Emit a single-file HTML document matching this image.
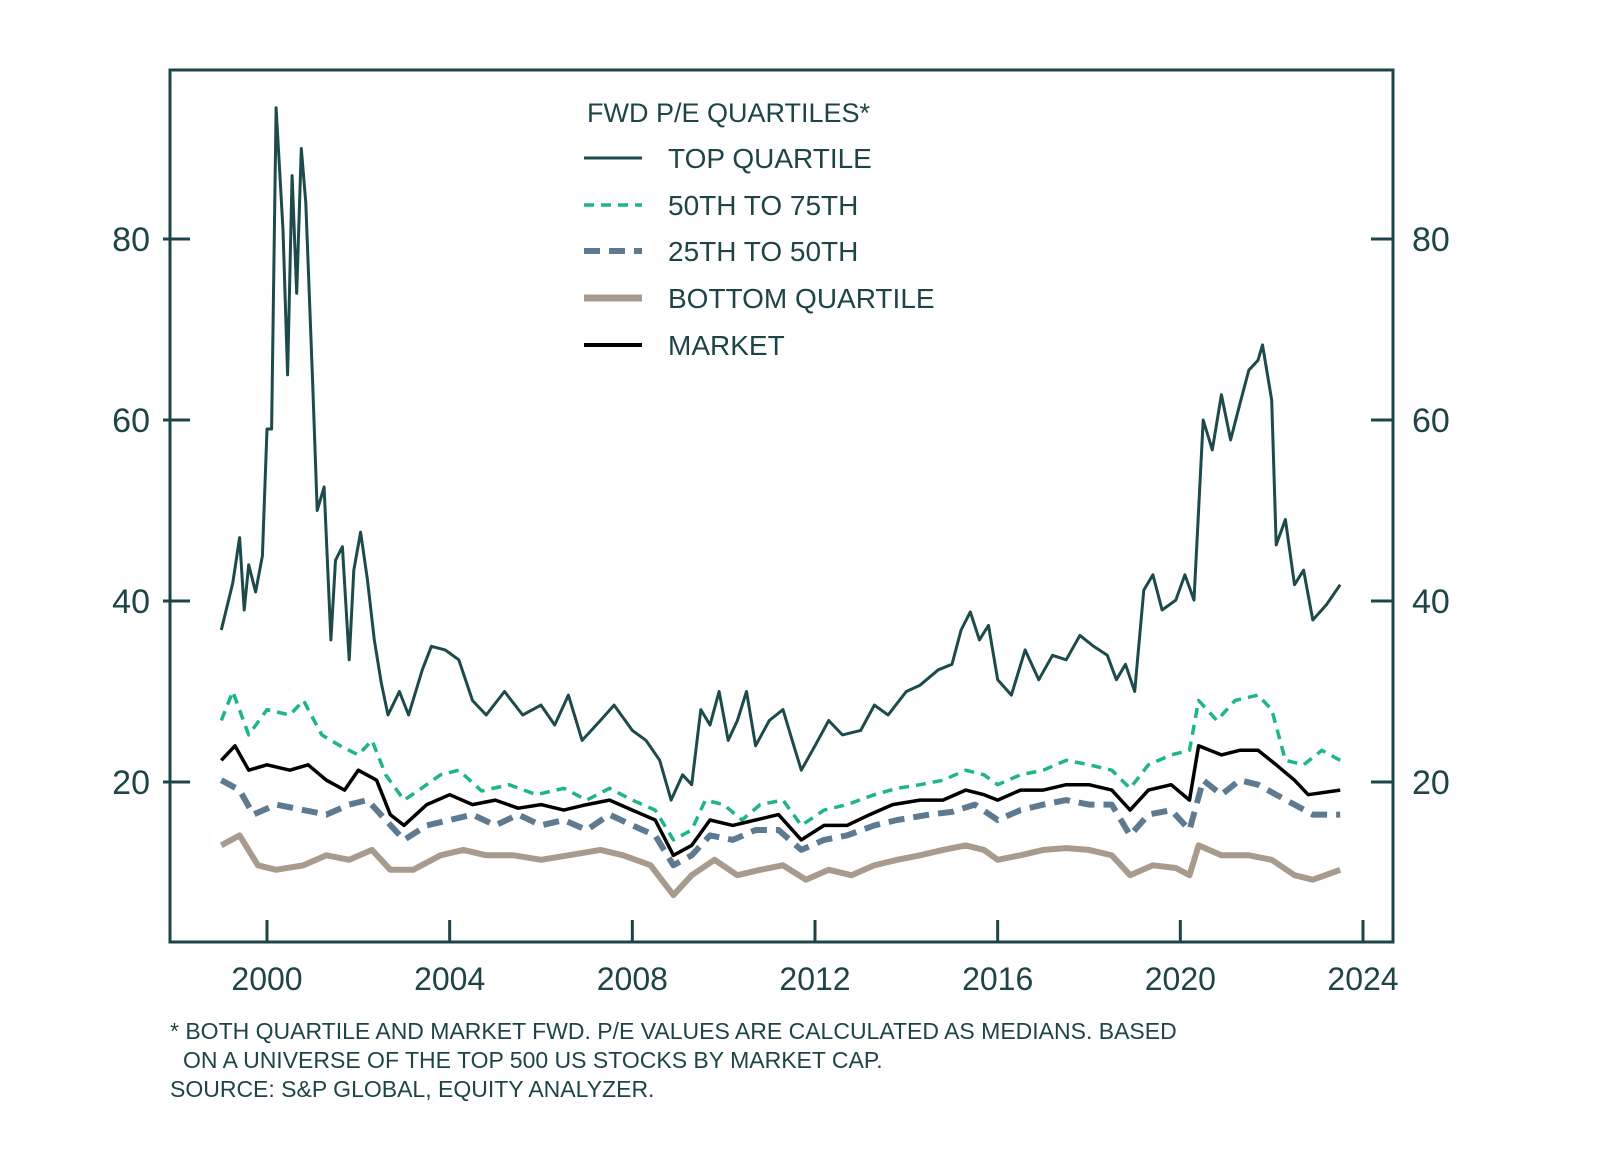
<!DOCTYPE html>
<html><head><meta charset="utf-8">
<style>
html,body{margin:0;padding:0;background:#fff;}
body{width:1600px;height:1163px;overflow:hidden;font-family:"Liberation Sans",sans-serif;}
svg text{font-family:"Liberation Sans",sans-serif;fill:#1f4446;}
</style></head>
<body>
<svg id="chart" width="1600" height="1163" viewBox="0 0 1600 1163" xmlns="http://www.w3.org/2000/svg">
<rect x="170" y="70" width="1223" height="872" fill="none" stroke="#1d4446" stroke-width="3"/>
<g id="axes"></g>
<g id="series"></g>
<g>
<text x="587" y="122" font-size="27">FWD P/E QUARTILES*</text>
<line x1="584" y1="158" x2="642" y2="158" stroke="#1d4a4a" stroke-width="3"/>
<text x="668" y="168" font-size="28">TOP QUARTILE</text>
<line x1="584" y1="205" x2="642" y2="205" stroke="#1fb58a" stroke-width="3.5" stroke-dasharray="10 7"/>
<text x="668" y="215" font-size="28">50TH TO 75TH</text>
<line x1="584" y1="251" x2="642" y2="251" stroke="#5d7a90" stroke-width="6" stroke-dasharray="16 9"/>
<text x="668" y="261" font-size="28">25TH TO 50TH</text>
<line x1="584" y1="298" x2="642" y2="298" stroke="#a89a8c" stroke-width="7"/>
<text x="668" y="308" font-size="28">BOTTOM QUARTILE</text>
<line x1="584" y1="345" x2="642" y2="345" stroke="#000" stroke-width="4"/>
<text x="668" y="355" font-size="28">MARKET</text>
</g>
<g>
<text x="170" y="1039" font-size="23">* BOTH QUARTILE AND MARKET FWD. P/E VALUES ARE CALCULATED AS MEDIANS. BASED</text>
<text x="183" y="1068" font-size="23">ON A UNIVERSE OF THE TOP 500 US STOCKS BY MARKET CAP.</text>
<text x="170" y="1097" font-size="23">SOURCE: S&amp;P GLOBAL, EQUITY ANALYZER.</text>
</g>
</svg>
<script>
const yTicks=[20,40,60,80];
const xTicks=[2000,2004,2008,2012,2016,2020,2024];
const topT=[1999.0,1999.25,1999.4,1999.5,1999.6,1999.75,1999.9,2000.0,2000.1,2000.2,2000.35,2000.45,2000.55,2000.65,2000.75,2000.85,2001.0,2001.1,2001.25,2001.4,2001.5,2001.65,2001.8,2001.9,2002.05,2002.2,2002.35,2002.5,2002.65,2002.9,2003.1,2003.4,2003.6,2003.9,2004.2,2004.5,2004.8,2005.2,2005.6,2006.0,2006.3,2006.6,2006.9,2007.3,2007.6,2008.0,2008.3,2008.6,2008.85,2009.1,2009.3,2009.5,2009.7,2009.9,2010.1,2010.3,2010.5,2010.7,2011.0,2011.3,2011.5,2011.7,2012.0,2012.3,2012.6,2013.0,2013.3,2013.6,2014.0,2014.3,2014.7,2015.0,2015.2,2015.4,2015.6,2015.8,2016.0,2016.3,2016.6,2016.9,2017.2,2017.5,2017.8,2018.1,2018.4,2018.6,2018.8,2019.0,2019.2,2019.4,2019.6,2019.9,2020.1,2020.3,2020.5,2020.7,2020.9,2021.1,2021.3,2021.5,2021.7,2021.8,2022.0,2022.1,2022.3,2022.5,2022.7,2022.9,2023.2,2023.5];
const topV=[36.8,42,47,39,44,41,45,59,59,94.5,81,65,87,74,90,84,64,50,52.6,35.7,44.5,46,33.5,43.4,47.6,42.3,35.7,31,27.4,30,27.4,32.4,35,34.6,33.5,29,27.4,30,27.4,28.5,26.3,29.6,24.6,26.8,28.5,25.7,24.6,22.4,18,20.8,19.7,28,26.3,30,24.6,26.8,30,24,26.8,28,24.6,21.3,24,26.8,25.2,25.7,28.5,27.4,30,30.7,32.4,33,36.8,38.8,35.7,37.3,31.3,29.6,34.6,31.3,34,33.5,36.2,35,34,31.3,33,30,41.2,42.9,39,40.1,42.9,40.1,60,56.7,62.8,57.8,61.7,65.5,66.6,68.3,62.2,46.2,49,41.8,43.4,37.9,39.6,41.8];
const midHiT=[1999.0,1999.25,1999.6,2000.0,2000.5,2000.8,2001.2,2001.6,2002.0,2002.3,2002.6,2003.0,2003.3,2003.8,2004.2,2004.7,2005.3,2005.9,2006.5,2007.0,2007.5,2008.0,2008.5,2008.9,2009.3,2009.6,2010.0,2010.4,2010.8,2011.3,2011.7,2012.2,2012.7,2013.3,2013.8,2014.3,2014.8,2015.3,2015.7,2016.0,2016.5,2017.0,2017.5,2018.0,2018.5,2018.9,2019.3,2019.8,2020.2,2020.4,2020.8,2021.2,2021.7,2022.0,2022.3,2022.7,2023.1,2023.5];
const midHiV=[26.8,30,25.2,28,27.4,29,25.2,24,23,24.6,20.8,18,19,20.8,21.3,19,19.7,18.6,19.3,18,19.3,18,16.9,13.6,14.7,18,17.5,15.8,17.5,18,15.2,16.9,17.5,18.6,19.3,19.7,20.2,21.3,20.8,19.7,20.8,21.3,22.4,21.9,21.3,19.3,21.9,23,23.5,29,26.8,29,29.6,28,22.4,21.9,23.5,22.4];
const midLoT=[1999.0,1999.4,1999.7,2000.2,2000.8,2001.3,2001.8,2002.2,2002.6,2003.0,2003.5,2004.0,2004.5,2005.0,2005.5,2006.0,2006.5,2007.0,2007.5,2008.0,2008.5,2008.9,2009.3,2009.7,2010.2,2010.7,2011.2,2011.7,2012.2,2012.7,2013.3,2013.8,2014.5,2015.0,2015.5,2016.0,2016.5,2017.0,2017.5,2018.0,2018.5,2018.9,2019.3,2019.8,2020.2,2020.5,2020.9,2021.3,2021.7,2022.1,2022.5,2022.9,2023.5];
const midLoV=[20.2,19.1,16.4,17.5,16.9,16.4,17.5,18,15.8,13.6,15.2,15.8,16.4,15.2,16.4,15.2,15.8,14.7,16.4,15.2,14.1,10.8,11.9,14.1,13.6,14.7,14.7,12.5,13.6,14.1,15.2,15.8,16.4,16.7,17.5,15.8,16.9,17.5,18,17.5,17.5,14.1,16.4,16.9,14.7,20.2,18.6,20.2,19.7,18.6,17.5,16.4,16.4];
const botT=[1999.0,1999.4,1999.8,2000.2,2000.8,2001.3,2001.8,2002.3,2002.7,2003.2,2003.8,2004.3,2004.8,2005.4,2006.0,2006.6,2007.3,2007.8,2008.4,2008.9,2009.3,2009.8,2010.3,2010.8,2011.3,2011.8,2012.3,2012.8,2013.3,2013.8,2014.3,2014.8,2015.3,2015.7,2016.0,2016.5,2017.0,2017.5,2018.0,2018.5,2018.9,2019.4,2019.9,2020.2,2020.4,2020.9,2021.5,2022.0,2022.5,2022.9,2023.5];
const botV=[13,14.1,10.8,10.3,10.8,11.9,11.4,12.5,10.3,10.3,11.9,12.5,11.9,11.9,11.4,11.9,12.5,11.9,10.8,7.5,9.7,11.4,9.7,10.3,10.8,9.2,10.3,9.7,10.8,11.4,11.9,12.5,13,12.5,11.4,11.9,12.5,12.7,12.5,11.9,9.7,10.8,10.5,9.7,13,11.9,11.9,11.4,9.7,9.2,10.3];
const mktT=[1999.0,1999.3,1999.6,2000.0,2000.5,2000.9,2001.3,2001.7,2002.0,2002.4,2002.7,2003.0,2003.5,2004.0,2004.5,2005.0,2005.5,2006.0,2006.5,2007.0,2007.5,2008.0,2008.5,2008.9,2009.3,2009.7,2010.2,2010.7,2011.2,2011.7,2012.2,2012.7,2013.2,2013.7,2014.3,2014.8,2015.3,2015.7,2016.0,2016.5,2017.0,2017.5,2018.0,2018.5,2018.9,2019.3,2019.8,2020.2,2020.4,2020.9,2021.3,2021.7,2022.1,2022.5,2022.8,2023.5];
const mktV=[22.4,24,21.3,21.9,21.3,21.9,20.2,19.1,21.3,20.2,16.4,15.2,17.5,18.6,17.5,18,17.1,17.5,16.9,17.5,18,16.9,15.8,11.9,13,15.8,15.2,15.8,16.4,13.6,15.2,15.2,16.4,17.5,18,18,19.1,18.6,18,19.1,19.1,19.7,19.7,19.1,16.9,19.1,19.7,18,24,23,23.5,23.5,21.9,20.2,18.6,19.1];

const NS='http://www.w3.org/2000/svg';
const xS=t=>267+(t-2000)*(1363-267)/24;
const yS=v=>963-v*9.05;
const axes=document.getElementById('axes'), ser=document.getElementById('series');
function mk(tag,attrs,parent){const e=document.createElementNS(NS,tag);for(const k in attrs)e.setAttribute(k,attrs[k]);parent.appendChild(e);return e;}
yTicks.forEach(v=>{
  const y=yS(v);
  const a=mk('line',{x1:163,y1:y,x2:190,y2:y,stroke:'#1d4446','stroke-width':3},axes);
  
  
  const b=mk('line',{x1:1371,y1:y,x2:1393,y2:y,stroke:'#1d4446','stroke-width':3},axes);
  
  
  const t1=mk('text',{x:150,y:y+12,'font-size':34,'text-anchor':'end'},axes);t1.textContent=v;
  
  
  const t2=mk('text',{x:1412,y:y+12,'font-size':34},axes);t2.textContent=v;
  
  
});
xTicks.forEach(t=>{
  const x=xS(t);
  const l=mk('line',{x1:x,y1:920,x2:x,y2:942,stroke:'#1d4446','stroke-width':3},axes);
  
  
  const tx=mk('text',{x:x,y:990,'font-size':32,'text-anchor':'middle'},axes);tx.textContent=t;
  
  
});
function line(ts,vs,style,name){
  const d=ts.map((t,i)=>(i?'L':'M')+xS(t).toFixed(1)+','+yS(vs[i]).toFixed(1)).join('');
  const p=mk('path',Object.assign({d:d,fill:'none','stroke-linejoin':'round'},style),ser);
  
  
}
line(botT,botV,{stroke:'#a89a8c','stroke-width':6},'bottom-quartile-line');
line(midLoT,midLoV,{stroke:'#5d7a90','stroke-width':6,'stroke-dasharray':'16 9'},'25th-to-50th-line');
line(midHiT,midHiV,{stroke:'#1fb58a','stroke-width':3.5,'stroke-dasharray':'10 7'},'50th-to-75th-line');
line(mktT,mktV,{stroke:'#000','stroke-width':3.5},'market-line');
line(topT,topV,{stroke:'#1d4a4a','stroke-width':3},'top-quartile-line');
</script>
</body></html>
